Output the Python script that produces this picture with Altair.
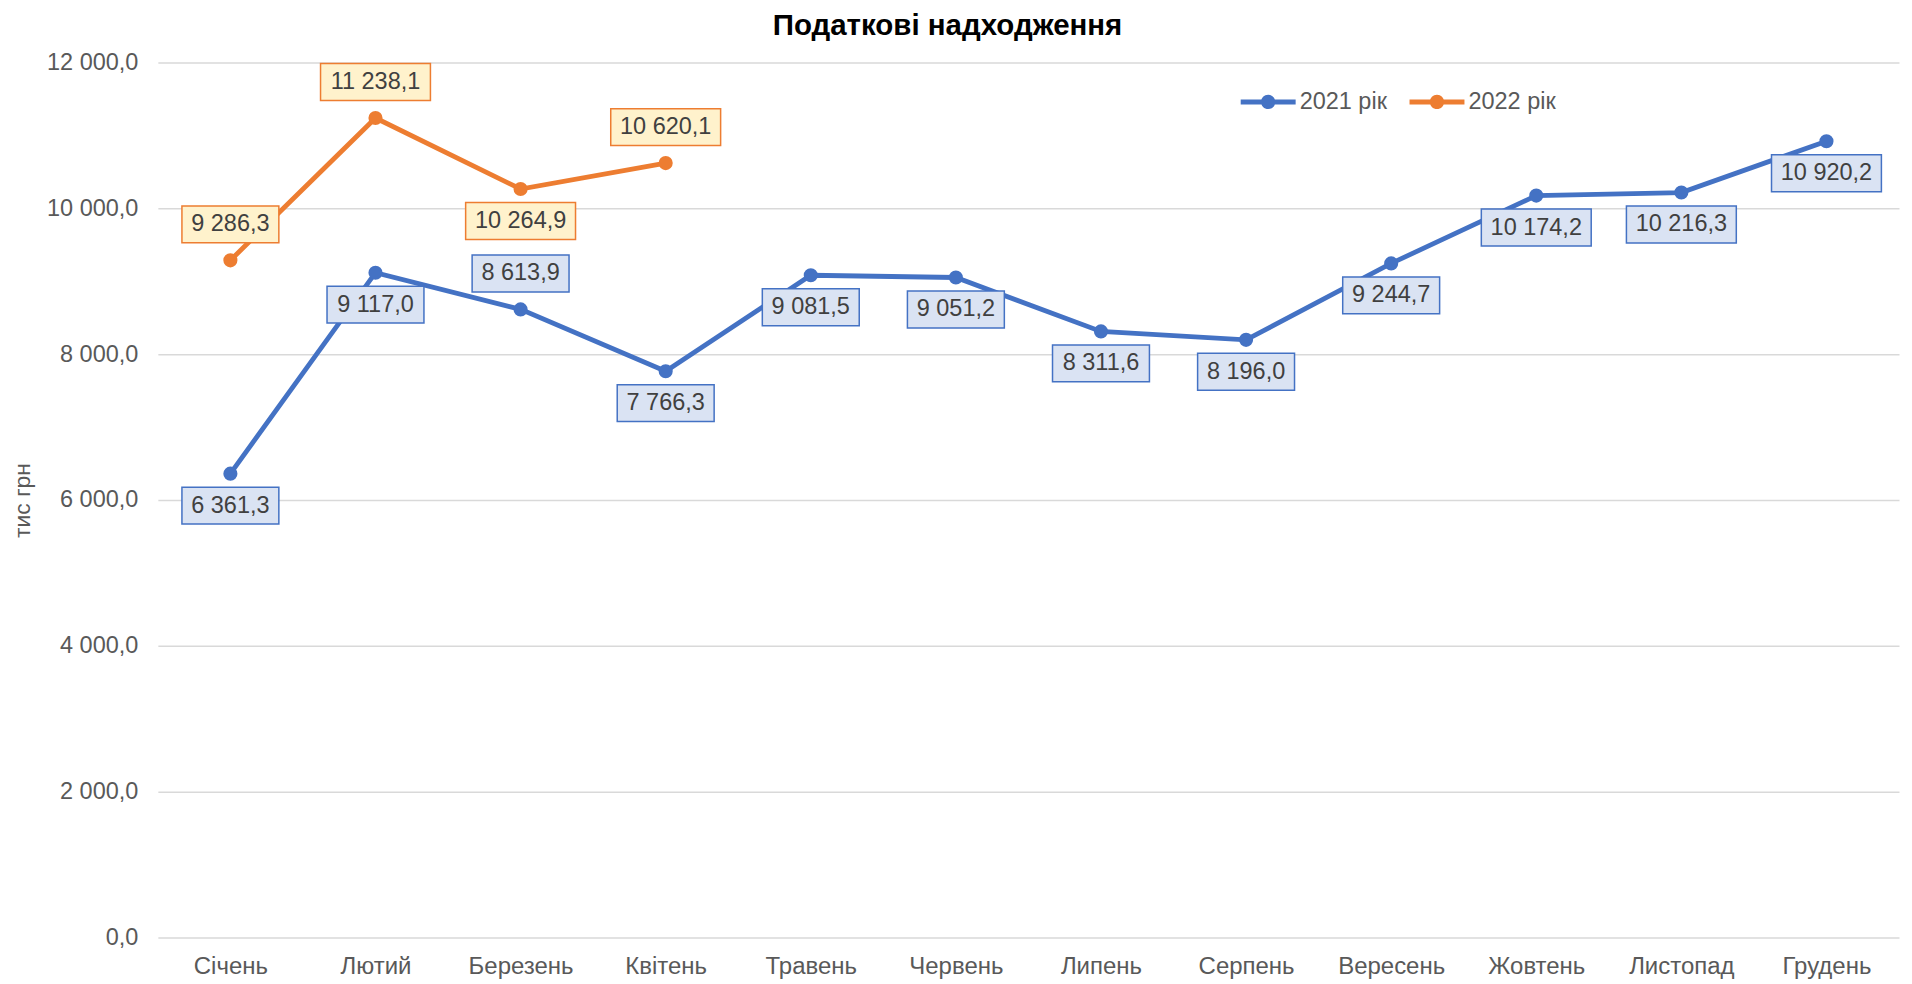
import altair as alt
import pandas as pd

months = ["Січень", "Лютий", "Березень", "Квітень", "Травень", "Червень",
          "Липень", "Серпень", "Вересень", "Жовтень", "Листопад", "Грудень"]
series = ["2021 рік", "2022 рік"]
values_2021 = [6361.3, 9117.0, 8613.9, 7766.3, 9081.5, 9051.2,
               8311.6, 8196.0, 9244.7, 10174.2, 10216.3, 10920.2]
values_2022 = [9286.3, 11238.1, 10264.9, 10620.1]
pos_2021 = ["below", "below", "above", "below", "below", "below",
            "below", "below", "below", "below", "below", "below"]
pos_2022 = ["above", "above", "below", "above"]
y_ticks = [0, 2000, 4000, 6000, 8000, 10000, 12000]

line_colors = ["#4472C4", "#ED7D31"]
box_fills = ["#DAE3F3", "#FFF2CC"]
FONT = "Liberation Sans"


def fmt(v):
    return f"{v:,.1f}".replace(",", " ").replace(".", ",")


rows = []
for m, v, p in zip(months, values_2021, pos_2021):
    rows.append(dict(month=m, series=series[0], value=v, pos=p, label=fmt(v)))
for m, v, p in zip(months, values_2022, pos_2022):
    rows.append(dict(month=m, series=series[1], value=v, pos=p, label=fmt(v)))
df = pd.DataFrame(rows)

path8 = "M-1,-0.336 L1,-0.336 L1,0.336 L-1,0.336 Z"
path7 = "M-0.882,-0.336 L0.882,-0.336 L0.882,0.336 L-0.882,0.336 Z"
legend_sym = ("M-1,-0.09 L-0.2,-0.09 L-0.2,0.09 L-1,0.09 Z "
              "M0.2,-0.09 L1,-0.09 L1,0.09 L0.2,0.09 Z "
              "M-0.26,0 A0.26,0.26 0 1,1 0.26,0 A0.26,0.26 0 1,1 -0.26,0 Z")

x_enc = alt.X("month:N", sort=months,
              scale=alt.Scale(type="point", padding=0.5),
              axis=alt.Axis(title=None, labelAngle=0, domain=False, grid=False,
                            ticks=False, tickSize=0, labelPadding=17,
                            labelFontSize=24, labelColor="#595959", labelFont=FONT))
y_enc = alt.Y("value:Q", scale=alt.Scale(domain=[0, 12000], nice=False),
              axis=alt.Axis(values=y_ticks, title="тис грн",
                            labelExpr="replace(replace(format(datum.value, ',.1f'), ',', ' '), '.', ',')",
                            grid=True, gridColor="#D9D9D9", gridWidth=1.5,
                            domain=False, ticks=False, tickSize=0, labelPadding=20,
                            labelFontSize=23.5, labelColor="#595959", labelFont=FONT,
                            titleFontSize=23, titleFontWeight="normal",
                            titleColor="#595959", titleFont=FONT, titlePadding=12))

color_scale = alt.Scale(domain=series, range=line_colors)
is_first = alt.datum.series == series[0]

base = alt.Chart(df).encode(x=x_enc, y=y_enc)

line = base.mark_line(strokeWidth=4.8).encode(
    stroke=alt.condition(is_first, alt.value(line_colors[0]), alt.value(line_colors[1])),
    detail="series:N",
)
points = base.mark_point(filled=True, size=200, opacity=1).encode(
    color=alt.Color("series:N", scale=color_scale,
                    legend=alt.Legend(title=None, orient="none", legendX=1084, legendY=12,
                                      direction="horizontal", symbolType=legend_sym,
                                      symbolSize=3025, symbolStrokeWidth=0,
                                      symbolOpacity=1,
                                      labelFontSize=23.5, labelColor="#595959",
                                      labelFont=FONT, labelOffset=4,
                                      columnPadding=22, padding=0)),
)


def boxes(position, off):
    return base.transform_filter(alt.datum.pos == position).transform_calculate(
        box=f"length(datum.label) > 7 ? '{path8}' : '{path7}'"
    ).mark_point(filled=True, size=12100, opacity=1, strokeWidth=1.5,
                 yOffset=off).encode(
        shape=alt.Shape("box:N", scale=None),
        fill=alt.condition(is_first, alt.value(box_fills[0]), alt.value(box_fills[1])),
        stroke=alt.condition(is_first, alt.value(line_colors[0]), alt.value(line_colors[1])),
    )


def texts(position, off):
    return base.transform_filter(alt.datum.pos == position).mark_text(
        fontSize=23.5, font=FONT, color="#404040", baseline="middle",
        align="center", yOffset=off
    ).encode(text="label:N")


BELOW = 32
ABOVE = -36

chart = alt.layer(
    line, points,
    boxes("below", BELOW), boxes("above", ABOVE),
    texts("below", BELOW), texts("above", ABOVE),
).properties(
    width=1743, height=876,
    title=alt.TitleParams("Податкові надходження", fontSize=29.5, fontWeight="bold",
                          font=FONT, color="#000000", anchor="middle",
                          frame="group", dx=-81, offset=9),
    autosize=alt.AutoSizeParams(type="none"),
    padding={"left": 150, "top": 54, "right": 5, "bottom": 45},
).configure_view(stroke=None)

chart.save("out.html", embed_options={"renderer": "svg", "actions": False})
